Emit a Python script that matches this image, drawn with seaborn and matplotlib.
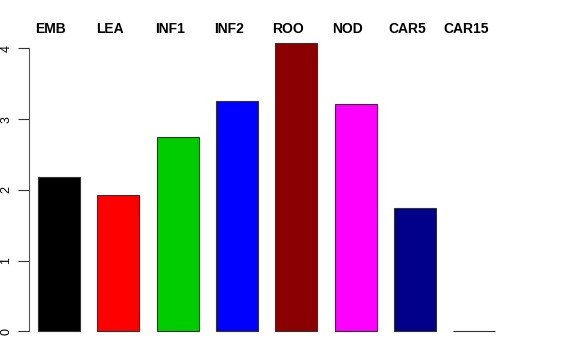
import pandas as pd
import matplotlib
matplotlib.use("Agg")
import matplotlib.pyplot as plt
import matplotlib.transforms as mtransforms
import seaborn as sns

# données
categories = ["EMB", "LEA", "INF1", "INF2", "ROO", "NOD", "CAR5", "CAR15"]
values = [2.18, 1.93, 2.74, 3.25, 4.07, 3.21, 1.75, 0.0]
colors = ["#000000", "#FF0000", "#00CD00", "#0000FF", "#8B0000", "#FF00FF", "#00008B", "#FFFFFF"]
y_ticks = [0, 1, 2, 3, 4]

df = pd.DataFrame({"cat": categories, "val": values})

sns.set_theme(style="white")
plt.rcParams["font.family"] = ["Liberation Sans", "DejaVu Sans"]

W, H = 576, 360
fig = plt.figure(figsize=(W / 100, H / 100), dpi=100)

# zone de tracé en pixels (style R)
left_px, right_px, top_px, bottom_px = 29, 510, 32, 343
ax = fig.add_axes([left_px / W, 1 - bottom_px / H,
                   (right_px - left_px) / W, (bottom_px - top_px) / H])

sns.barplot(data=df, x="cat", y="val", hue="cat", palette=colors, dodge=False,
            legend=False, width=0.707, edgecolor="#333333", linewidth=0.8,
            saturation=1, ax=ax, clip_on=False)

ax.set_xlim(-0.505, 7.6)
ax.set_ylim(-0.163, 4.23)

for s in ["top", "right", "bottom"]:
    ax.spines[s].set_visible(False)
ax.spines["left"].set_bounds(0, 4)
ax.spines["left"].set_color("#555555")
ax.spines["left"].set_linewidth(0.8)

ax.set_xticks([])
ax.set_yticks(y_ticks)
ax.set_yticklabels([str(t) for t in y_ticks], rotation=90, va="center",
                   fontsize=9, color="black")
ax.tick_params(axis="y", direction="out", length=8, width=0.8, color="#333333",
               left=True, pad=4)
ax.set_xlabel("")
ax.set_ylabel("")

# étiquettes en haut (légèrement décalées à gauche comme dans l'original)
px_per_unit = (right_px - left_px) / (7.6 + 0.505)
shift = -8 / px_per_unit
trans = mtransforms.blended_transform_factory(ax.transData, fig.transFigure)
for i, c in enumerate(categories):
    ax.text(i + shift, 1 - 29 / H, c, transform=trans, ha="center", va="center",
            fontsize=10, fontweight="bold", color="black", clip_on=False)

fig.savefig("out.png", dpi=100)
